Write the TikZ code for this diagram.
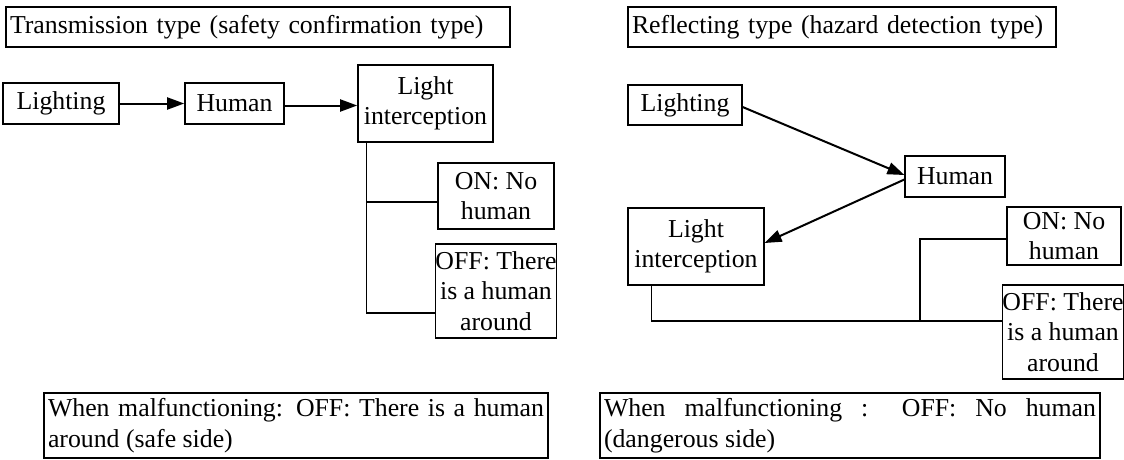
\documentclass[tikz,border=0pt]{standalone}
\usepackage{fontspec}
\setmainfont{Liberation Serif}
\usetikzlibrary{arrows.meta}
\begin{document}
\begin{tikzpicture}[x=1pt,y=-1pt,
  txt/.style={font=\fontsize{25.8}{30.5}\selectfont},
  box/.style={txt, draw, line width=1.2pt, inner sep=0pt, align=center},
  heavy/.style={box, line width=1.6pt},
  titlebox/.style={txt, draw, line width=1.2pt, inner xsep=4pt, inner ysep=0pt, align=left},
  notebox/.style={txt, draw, line width=1.2pt, inner xsep=4pt, inner ysep=0pt, align=justify},
  arr/.style={line width=2pt, -{Triangle[length=17pt,width=12pt]}},
  link/.style={line width=1.2pt}]
\useasboundingbox (0,0) rectangle (1124,460);

% ---- transmission type ----
\node[titlebox, text width=496pt, minimum height=40pt] (tTitle) at (258,27)
  {Transmission type (safety confirmation type)};
\node[box, minimum width=116pt, minimum height=41pt] (lLight) at (61,103.5) {Lighting};
\node[heavy, minimum width=99pt, minimum height=41pt] (lHuman) at (234.5,103.5) {Human};
\node[heavy, minimum width=135pt, minimum height=77pt] (lInt) at (425.5,103.5) {Light\\interception};
\node[box, minimum width=116pt, minimum height=66pt] (lOn) at (496,196) {ON: No\\human};
\node[box, minimum width=118pt, minimum height=94pt] (lOff) at (496,291) {OFF: There\\is a human\\around};
\node[notebox, text width=496pt, minimum height=65pt] (lNote) at (296,425.5)
  {When malfunctioning: OFF: There is a human\linebreak around (safe side)};

\draw[arr] (lLight) -- (lHuman);
\draw[arr] ([yshift=-2pt]lHuman.east) -- ([yshift=-2pt]lInt.west);
\draw[link] ([xshift=9pt]lInt.south west) |- ([yshift=-22pt]lOff.west);
\coordinate (lJoin) at (367,202);
\draw[link] (lJoin) -- (lJoin -| lOn.west);

% ---- reflecting type ----
\node[titlebox, text width=420pt, minimum height=40pt] (rTitle) at (842,27)
  {Reflecting type (hazard detection type)};
\node[box, minimum width=114pt, minimum height=40pt] (rLight) at (685,105) {Lighting};
\node[box, minimum width=100pt, minimum height=41pt] (rHuman) at (955,176.5) {Human};
\node[box, minimum width=136pt, minimum height=77pt] (rInt) at (696,246.5) {Light\\interception};
\node[box, minimum width=114pt, minimum height=58pt] (rOn) at (1064,236) {ON: No\\human};
\node[box, minimum width=118pt, minimum height=94pt] (rOff) at (1063,332) {OFF: There\\is a human\\around};
\node[notebox, text width=492pt, minimum height=65pt] (rNote) at (850,425.5)
  {When malfunctioning : OFF: No human\linebreak (dangerous side)};

\draw[arr] ([yshift=-2pt]rLight.east) -- ([yshift=1.5pt]rHuman.west);
\draw[arr] ([yshift=-3pt]rHuman.west) -- ([yshift=3.5pt]rInt.east);
\draw[link] ([xshift=24pt]rInt.south west) |- ([yshift=11pt]rOff.west);
\coordinate (rJoin) at (920,321);
\draw[link] (rJoin) |- ([yshift=-3pt]rOn.west);
\end{tikzpicture}
\end{document}
